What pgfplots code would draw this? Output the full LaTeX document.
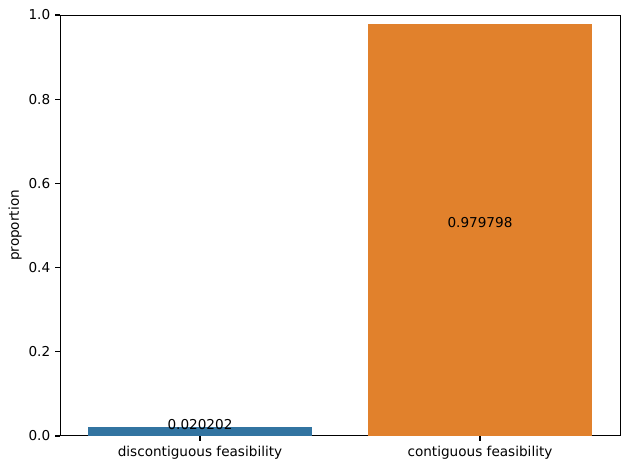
\documentclass[border=0pt]{standalone}
\usepackage{pgfplots}
\pgfplotsset{compat=1.18}
\usepackage{fontspec}
\setmainfont{DejaVu Sans}
\definecolor{sbblue}{HTML}{3274A1}
\definecolor{sborange}{HTML}{E1812C}
\begin{document}
\begin{tikzpicture}
\useasboundingbox (-43.2pt,-24.5pt) rectangle (410.4pt,313.9pt);
\begin{axis}[
  at={(0,0)}, anchor=south west,
  scale only axis, width=403.2pt, height=303.1pt,
  xmin=-0.5, xmax=1.5, ymin=0, ymax=1,
  xtick={0,1}, xticklabels={discontiguous feasibility, contiguous feasibility},
  ytick={0,0.2,0.4,0.6,0.8,1.0},
  yticklabel style={/pgf/number format/.cd, fixed, fixed zerofill, precision=1},
  /pgf/number format/assume math mode=true,
  tick style={black, line width=0.8pt},
  tick align=outside, major tick length=3.5pt,
  xtick pos=bottom, ytick pos=left,
  axis line style={line width=0.7pt},
  ylabel={proportion},
  ylabel style={yshift=-2pt},
  font=\fontsize{9.8pt}{12pt}\selectfont,
  ticklabel style={font=\fontsize{9.8pt}{12pt}\selectfont},
  clip=false,
]
\addplot[ybar, bar width=0.8, fill=sbblue, draw=none, bar shift=0pt] coordinates {(0,0.020202)};
\addplot[ybar, bar width=0.8, fill=sborange, draw=none, bar shift=0pt] coordinates {(1,0.979798)};
\node[anchor=base, yshift=1.5pt] at (axis cs:0,0.010101) {0.020202};
\node[anchor=base, yshift=1.5pt] at (axis cs:1,0.489899) {0.979798};
\end{axis}
\end{tikzpicture}
\end{document}
